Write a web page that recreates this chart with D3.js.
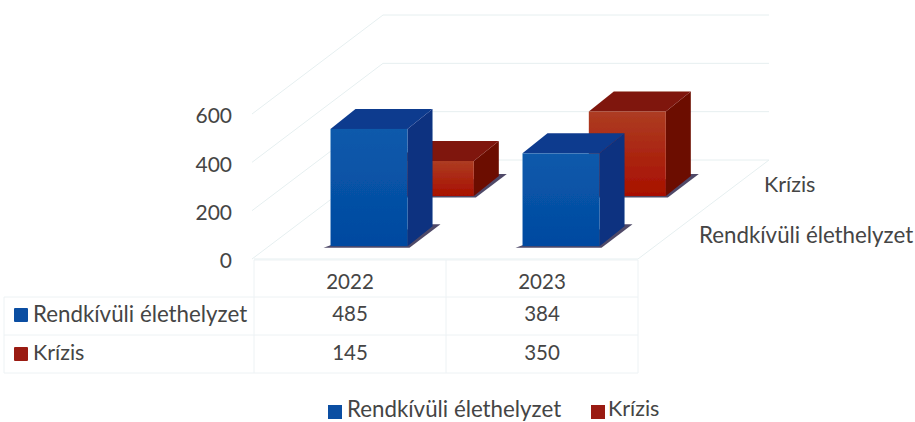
<!DOCTYPE html>
<html><head><meta charset="utf-8">
<script src="https://cdn.jsdelivr.net/npm/d3@7/dist/d3.min.js"></script>
<style>html,body{margin:0;padding:0;background:#fff}svg{display:block}text{font-family:Lato,"Noto Sans",sans-serif;fill:#454545}</style>
</head><body><svg id="c" width="915" height="422"></svg>
<script>
const years = ["2022", "2023"];
const seriesNames = ["Rendkívüli élethelyzet", "Krízis"];
const rendkivuli = [485, 384];
const krizis = [145, 350];
const yTicks = [0, 200, 400, 600];
const seriesValues = [rendkivuli, krizis];
const seriesColors = ["#0b4ea2", "#9a1b12"];
const nameSizes = [22.3, 21.5];

const svg = d3.select("#c");
const floorLeft = 254, floorRight = 638, floorY = 259, backDx = 131, backDy = 99;
const x = d3.scaleBand().domain(years).range([floorLeft, floorRight]);
const y = d3.scaleLinear().domain([0, 600]).range([floorY, floorY - 145]);
const h = d3.scaleLinear().domain([0, 600]).range([0, 145]);
const depth = d3.scalePoint().domain(seriesNames).range([0.13, 0.636]);
const barW = 77, sideDx = 25, sideDy = 20;

const defs = svg.append("defs");
defs.append("filter").attr("id", "soft").append("feGaussianBlur").attr("stdDeviation", 0.45);
const grad = (id, a, b) => {
  const g = defs.append("linearGradient").attr("id", id).attr("x1", 0).attr("y1", 0).attr("x2", 0).attr("y2", 1);
  g.append("stop").attr("offset", "0%").attr("stop-color", a);
  g.append("stop").attr("offset", "100%").attr("stop-color", b);
};
grad("f0", "#0a5aab", "#0349a0");
grad("f1", "#ad3c22", "#a81000");

const root = svg.append("g").attr("filter", "url(#soft)");
const grid = "#e6eff0";
const walls = root.append("g").attr("fill", "none").attr("stroke", grid).attr("stroke-width", 1);
yTicks.forEach(t => {
  const yy = y(t);
  walls.append("path").attr("d", d3.line()([
    [floorLeft - 2, yy],
    [floorLeft + backDx - 2, yy - backDy],
    [floorLeft + backDx + 384, yy - backDy]
  ]));
});
walls.append("path").attr("d", d3.line()([[floorLeft, floorY], [floorRight, floorY], [floorRight + backDx, floorY - backDy]]));

const rowLines = [260, 297, 335, 373];
const colLines = [4, floorLeft, x("2023"), floorRight];
const table = root.append("g").attr("stroke", "#edf2f4").attr("stroke-width", 1);
rowLines.forEach((r, i) => table.append("line").attr("x1", i === 0 ? floorLeft : 4).attr("x2", floorRight).attr("y1", r).attr("y2", r));
colLines.forEach((c, i) => table.append("line").attr("x1", c).attr("x2", c).attr("y1", i === 0 ? 297 : 260).attr("y2", 373));

const bars = root.append("g");
[1, 0].forEach(si => {
  const name = seriesNames[si];
  const t = depth(name);
  years.forEach((yr, i) => {
    const v = seriesValues[si][i];
    const x0 = x(yr) + x.bandwidth() / 2 + t * backDx + 2 - barW / 2;
    const b = y(0) - t * backDy;
    const top = b - h(v);
    const g = bars.append("g");
    const poly = (pts, fill) => g.append("polygon").attr("points", pts.map(p => p.join(",")).join(" ")).attr("fill", fill);
    poly([[x0 - 7, b + 1.5], [x0 + barW + 2, b + 1.5], [x0 + barW + sideDx + 8, b - sideDy - 2], [x0 + barW + sideDx, b - sideDy - 2], [x0, b - 1]], "#4f4a68");
    poly([[x0 + barW, top], [x0 + barW + sideDx, top - sideDy], [x0 + barW + sideDx, b - sideDy], [x0 + barW, b]], si === 0 ? "#0a3080" : "#6c0a05");
    poly([[x0, top], [x0 + sideDx, top - sideDy], [x0 + barW + sideDx, top - sideDy], [x0 + barW, top]], si === 0 ? "#0b3a8e" : "#7f150d");
    g.append("rect").attr("x", x0).attr("y", top).attr("width", barW).attr("height", h(v)).attr("fill", `url(#f${si})`);
  });
});

const axis = svg.append("g").attr("transform", "translate(232,2)")
  .call(d3.axisLeft(y).tickValues(yTicks).tickSize(0).tickPadding(0));
axis.select(".domain").remove();
axis.selectAll("text").attr("font-size", 21).style("font-family", "Lato").style("fill", "#454545");

const label = (txt, xx, yy, anchor = "start", size = 20.5) =>
  svg.append("text").attr("x", xx).attr("y", yy).attr("text-anchor", anchor).attr("font-size", size).attr("dominant-baseline", "middle").text(txt);

label(seriesNames[1], 764, 187, "start", nameSizes[1]);
label(seriesNames[0], 699, 237, "start", nameSizes[0]);

years.forEach((yr, i) => {
  const cx = x(yr) + x.bandwidth() / 2;
  label(yr, cx, 284, "middle");
  label(rendkivuli[i], cx, 316, "middle");
  label(krizis[i], cx, 355, "middle");
});
const rowY = [316, 355];
seriesNames.forEach((n, i) => {
  svg.append("rect").attr("x", 14).attr("y", rowY[i] - 8).attr("width", 14).attr("height", 14).attr("rx", 1).attr("fill", seriesColors[i]);
  label(n, 33, rowY[i], "start", nameSizes[i]);
});

const legendX = [328, 591];
const legendGap = [19, 17];
seriesNames.forEach((n, i) => {
  svg.append("rect").attr("x", legendX[i]).attr("y", 405).attr("width", 14).attr("height", 14).attr("fill", seriesColors[i]);
  label(n, legendX[i] + legendGap[i], 411, "start", nameSizes[i]);
});
</script></body></html>
